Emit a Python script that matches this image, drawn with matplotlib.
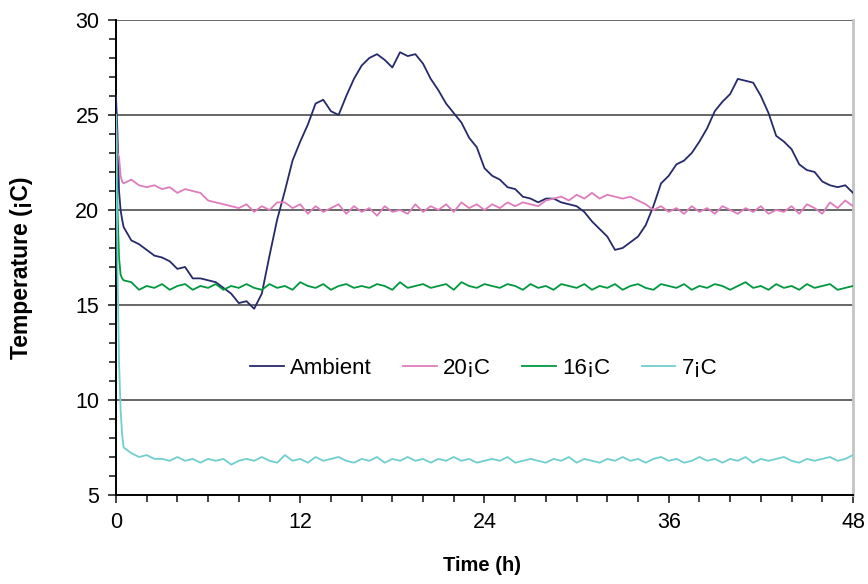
import numpy as np
import matplotlib
matplotlib.use("Agg")
import matplotlib.pyplot as plt
from matplotlib.ticker import MultipleLocator

plt.rcParams['font.family'] = ['Liberation Sans', 'DejaVu Sans']

# time axis (h): a few fine points at the start, then every half hour
time_h = np.concatenate([[0.0, 0.1, 0.2, 0.3, 0.4], np.arange(0.5, 48.01, 0.5)])

ambient = [26.0, 24.0, 21.0, 20.0, 19.5,
           19.1, 18.4, 18.2, 17.9, 17.6, 17.5, 17.3, 16.9, 17.0, 16.4, 16.4, 16.3, 16.2, 15.9, 15.6, 15.1,
           15.2, 14.8, 15.6, 17.6, 19.5, 21.0, 22.6, 23.6, 24.5, 25.6, 25.8, 25.2, 25.0, 26.0, 26.9, 27.6,
           28.0, 28.2, 27.9, 27.5, 28.3, 28.1, 28.2, 27.7, 26.9, 26.3, 25.6, 25.1, 24.6, 23.8, 23.3, 22.2,
           21.8, 21.6, 21.2, 21.1, 20.7, 20.6, 20.4, 20.6, 20.6, 20.4, 20.3, 20.2, 19.9, 19.4, 19.0, 18.6,
           17.9, 18.0, 18.3, 18.6, 19.2, 20.2, 21.4, 21.8, 22.4, 22.6, 23.0, 23.6, 24.3, 25.2, 25.7, 26.1,
           26.9, 26.8, 26.7, 26.0, 25.1, 23.9, 23.6, 23.2, 22.4, 22.1, 22.0, 21.5, 21.3, 21.2, 21.3, 20.9]

set_20 = [25.0, 23.0, 22.8, 21.8, 21.5,
          21.4, 21.6, 21.3, 21.2, 21.3, 21.1, 21.2, 20.9, 21.1, 21.0, 20.9, 20.5, 20.4, 20.3, 20.2, 20.1,
          20.3, 19.9, 20.2, 20.0, 20.4, 20.4, 20.1, 20.3, 19.8, 20.2, 19.9, 20.1, 20.3, 19.8, 20.2, 19.9,
          20.1, 19.7, 20.2, 19.9, 20.0, 19.8, 20.3, 19.9, 20.2, 20.0, 20.3, 19.9, 20.4, 20.1, 20.3, 20.0,
          20.3, 20.1, 20.4, 20.2, 20.4, 20.3, 20.2, 20.5, 20.6, 20.7, 20.5, 20.8, 20.6, 20.9, 20.6, 20.8,
          20.7, 20.6, 20.7, 20.5, 20.3, 20.0, 20.2, 19.9, 20.1, 19.8, 20.2, 19.9, 20.1, 19.8, 20.2, 20.0,
          19.8, 20.1, 19.9, 20.2, 19.8, 20.0, 19.9, 20.2, 19.8, 20.3, 20.1, 19.8, 20.4, 20.1, 20.5, 20.2]

set_16 = [25.0, 20.0, 17.5, 16.6, 16.4,
          16.3, 16.2, 15.8, 16.0, 15.9, 16.1, 15.8, 16.0, 16.1, 15.8, 16.0, 15.9, 16.1, 15.8, 16.0, 15.9,
          16.1, 15.9, 15.8, 16.1, 15.9, 16.0, 15.8, 16.2, 16.0, 15.9, 16.1, 15.8, 16.0, 16.1, 15.9, 16.0,
          15.9, 16.1, 16.0, 15.8, 16.2, 15.9, 16.0, 16.1, 15.9, 16.0, 16.1, 15.8, 16.2, 16.0, 15.9, 16.1,
          16.0, 15.9, 16.1, 16.0, 15.8, 16.1, 15.9, 16.0, 15.8, 16.1, 16.0, 15.9, 16.1, 15.8, 16.0, 15.9,
          16.1, 15.8, 16.0, 16.1, 15.9, 15.8, 16.1, 16.0, 15.9, 16.1, 15.8, 16.0, 15.9, 16.1, 16.0, 15.8,
          16.0, 16.2, 15.9, 16.0, 15.8, 16.1, 15.9, 16.0, 15.8, 16.1, 15.9, 16.0, 16.1, 15.8, 15.9, 16.0]

set_7 = [25.0, 17.0, 12.0, 9.5, 8.2,
         7.5, 7.2, 7.0, 7.1, 6.9, 6.9, 6.8, 7.0, 6.8, 6.9, 6.7, 6.9, 6.8, 6.9, 6.6, 6.8,
         6.9, 6.8, 7.0, 6.8, 6.7, 7.1, 6.8, 6.9, 6.7, 7.0, 6.8, 6.9, 7.0, 6.8, 6.7, 6.9,
         6.8, 7.0, 6.7, 6.9, 6.8, 7.0, 6.8, 6.9, 6.7, 6.9, 6.8, 7.0, 6.8, 6.9, 6.7, 6.8,
         6.9, 6.8, 7.0, 6.7, 6.8, 6.9, 6.8, 6.7, 6.9, 6.8, 7.0, 6.7, 6.9, 6.8, 6.7, 6.9,
         6.8, 7.0, 6.8, 6.9, 6.7, 6.9, 7.0, 6.8, 6.9, 6.7, 6.8, 7.0, 6.8, 6.9, 6.7, 6.9,
         6.8, 7.0, 6.7, 6.9, 6.8, 6.9, 7.0, 6.8, 6.7, 6.9, 6.8, 6.9, 7.0, 6.8, 6.9, 7.1]

labels = ["Ambient", "20¡C", "16¡C", "7¡C"]
colors = ["#262a6b", "#df7cbd", "#00983f", "#6fcfcf"]

fig = plt.figure(figsize=(8.68, 5.84), dpi=100)
ax = fig.add_axes([0.1336, 0.1524, 0.8491, 0.8134])

for y in [10, 15, 20, 25, 30]:
    ax.axhline(y, color="#666666", lw=1.4, zorder=1)

for series, lab, col in zip([ambient, set_20, set_16, set_7], labels, colors):
    ax.plot(time_h, series, color=col, lw=1.3, label=lab, zorder=3)

ax.set_xlim(0, 48)
ax.set_ylim(5, 30)
ax.xaxis.set_major_locator(MultipleLocator(12))
ax.xaxis.set_minor_locator(MultipleLocator(2))
ax.yaxis.set_major_locator(MultipleLocator(5))
ax.yaxis.set_minor_locator(MultipleLocator(1))
ax.tick_params(which="both", direction="out", color="#222222", width=1.2, labelsize=15.5)
ax.tick_params(which="major", length=6, pad=6)
ax.tick_params(which="minor", length=5)

ax.spines["top"].set_visible(False)
ax.spines["right"].set_color("#c4c4c4")
ax.spines["right"].set_linewidth(2)
ax.spines["left"].set_linewidth(1.4)
ax.spines["bottom"].set_linewidth(1.4)

ax.set_xlabel("Time (h)", fontsize=14.5, fontweight="bold")
ax.set_ylabel("Temperature (¡C)", fontsize=16.5, fontweight="bold")
ax.xaxis.set_label_coords(0.496, -0.128)
ax.yaxis.set_label_coords(-0.113, 0.478)

ax.legend(loc="center", bbox_to_anchor=(0.499, 0.267), ncol=4, frameon=False,
          fontsize=16, handlelength=1.5, columnspacing=1.4, handletextpad=0.3)

fig.savefig("out.png", dpi=100)
